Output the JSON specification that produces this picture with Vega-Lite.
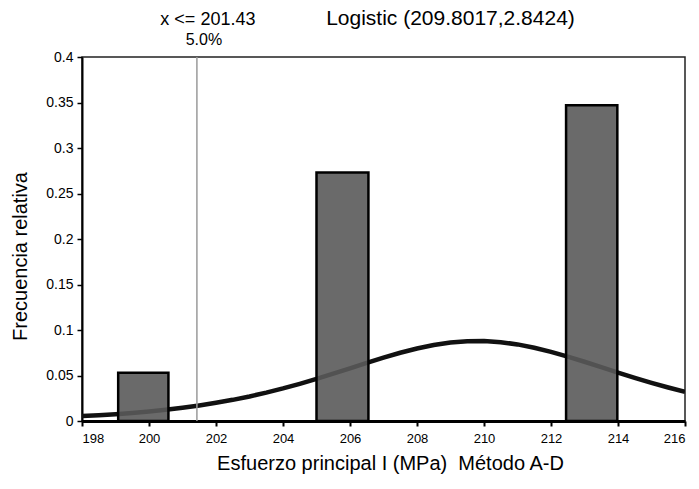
{
  "$schema": "https://vega.github.io/schema/vega-lite/v6.json",
  "autosize": {"type": "none"},
  "width": 603,
  "height": 364,
  "padding": {"left": 82, "top": 57, "right": 14, "bottom": 68},
  "background": "white",
  "config": {
    "font": "Liberation Sans",
    "view": {"stroke": "#222", "strokeWidth": 1.5},
    "axis": {
      "grid": false,
      "domainColor": "#000",
      "tickColor": "#000",
      "labelColor": "#000",
      "titleColor": "#000",
      "labelFont": "Liberation Sans",
      "titleFont": "Liberation Sans",
      "titleFontWeight": "normal"
    }
  },
  "datasets": {
    "bins": [
      {"lo": 199.08, "hi": 200.58, "freq": 0.053, "base": 0},
      {"lo": 205.0, "hi": 206.55, "freq": 0.273, "base": 0},
      {"lo": 212.45, "hi": 213.98, "freq": 0.347, "base": 0}
    ],
    "fit": [
      {"x": 198.0, "f": 0.00537}, {"x": 198.5, "f": 0.00636}, {"x": 199.0, "f": 0.00753},
      {"x": 199.5, "f": 0.00890}, {"x": 200.0, "f": 0.01051}, {"x": 200.5, "f": 0.01238},
      {"x": 201.0, "f": 0.01456}, {"x": 201.5, "f": 0.01707}, {"x": 202.0, "f": 0.01996},
      {"x": 202.5, "f": 0.02326}, {"x": 203.0, "f": 0.02699}, {"x": 203.5, "f": 0.03117},
      {"x": 204.0, "f": 0.03579}, {"x": 204.5, "f": 0.04085}, {"x": 205.0, "f": 0.04629},
      {"x": 205.5, "f": 0.05203}, {"x": 206.0, "f": 0.05794}, {"x": 206.5, "f": 0.06387},
      {"x": 207.0, "f": 0.06963}, {"x": 207.5, "f": 0.07498}, {"x": 208.0, "f": 0.07968},
      {"x": 208.5, "f": 0.08350}, {"x": 209.0, "f": 0.08623}, {"x": 209.5, "f": 0.08771},
      {"x": 210.0, "f": 0.08785}, {"x": 210.5, "f": 0.08664}, {"x": 211.0, "f": 0.08416},
      {"x": 211.5, "f": 0.08055}, {"x": 212.0, "f": 0.07601}, {"x": 212.5, "f": 0.07078},
      {"x": 213.0, "f": 0.06509}, {"x": 213.5, "f": 0.05917}, {"x": 214.0, "f": 0.05324},
      {"x": 214.5, "f": 0.04746}, {"x": 215.0, "f": 0.04195}, {"x": 215.5, "f": 0.03680},
      {"x": 216.0, "f": 0.03208}
    ],
    "cut": [
      {"x": 201.43, "top": 0.4, "base": 0, "line1": "x <= 201.43", "line2": "5.0%"}
    ],
    "heading": [
      {"x": 209.0, "top": 0.4, "label": "Logistic (209.8017,2.8424)"}
    ]
  },
  "layer": [
    {
      "data": {"name": "fit"},
      "mark": {"type": "line", "color": "#111", "strokeWidth": 4.5, "clip": true},
      "encoding": {
        "x": {
          "field": "x",
          "type": "quantitative",
          "scale": {"domain": [198, 216], "nice": false, "zero": false},
          "axis": {
            "values": [198, 200, 202, 204, 206, 208, 210, 212, 214, 216],
            "format": "d",
            "domainWidth": 3,
            "tickSize": 5,
            "tickWidth": 2,
            "labelPadding": 6,
            "labelFontSize": 13,
            "title": "Esfuerzo principal I (MPa)\u00a0 Método A-D",
            "titleFontSize": 20,
            "titleX": 308,
            "titleAlign": "center",
            "titlePadding": 8
          }
        },
        "y": {
          "field": "f",
          "type": "quantitative",
          "scale": {"domain": [0, 0.4], "nice": false},
          "axis": {
            "values": [0, 0.05, 0.1, 0.15, 0.2, 0.25, 0.3, 0.35, 0.4],
            "format": "~g",
            "domainWidth": 2,
            "tickSize": 5,
            "tickWidth": 1.5,
            "labelPadding": 4,
            "labelFontSize": 14,
            "title": "Frecuencia relativa",
            "titleFontSize": 20,
            "titleY": 199,
            "titlePadding": 15
          }
        }
      }
    },
    {
      "data": {"name": "bins"},
      "mark": {"type": "rect", "fill": "#5a5a5a", "fillOpacity": 0.9, "stroke": "#000", "strokeWidth": 2.5},
      "encoding": {
        "x": {"field": "lo", "type": "quantitative"},
        "x2": {"field": "hi"},
        "y": {"field": "freq", "type": "quantitative"},
        "y2": {"field": "base"}
      }
    },
    {
      "data": {"name": "cut"},
      "mark": {"type": "rule", "color": "#9a9a9a", "strokeWidth": 1.5},
      "encoding": {
        "x": {"field": "x", "type": "quantitative"},
        "y": {"field": "top", "type": "quantitative"},
        "y2": {"field": "base"}
      }
    },
    {
      "data": {"name": "cut"},
      "mark": {"type": "text", "fontSize": 18, "color": "#000", "align": "center", "baseline": "alphabetic", "dx": 11, "dy": -32, "clip": false},
      "encoding": {
        "x": {"field": "x", "type": "quantitative"},
        "y": {"field": "top", "type": "quantitative"},
        "text": {"field": "line1"}
      }
    },
    {
      "data": {"name": "cut"},
      "mark": {"type": "text", "fontSize": 16, "color": "#000", "align": "center", "baseline": "alphabetic", "dx": 7, "dy": -12, "clip": false},
      "encoding": {
        "x": {"field": "x", "type": "quantitative"},
        "y": {"field": "top", "type": "quantitative"},
        "text": {"field": "line2"}
      }
    },
    {
      "data": {"name": "heading"},
      "mark": {"type": "text", "fontSize": 21, "color": "#000", "align": "center", "baseline": "alphabetic", "dy": -32, "clip": false},
      "encoding": {
        "x": {"field": "x", "type": "quantitative"},
        "y": {"field": "top", "type": "quantitative"},
        "text": {"field": "label"}
      }
    }
  ]
}
